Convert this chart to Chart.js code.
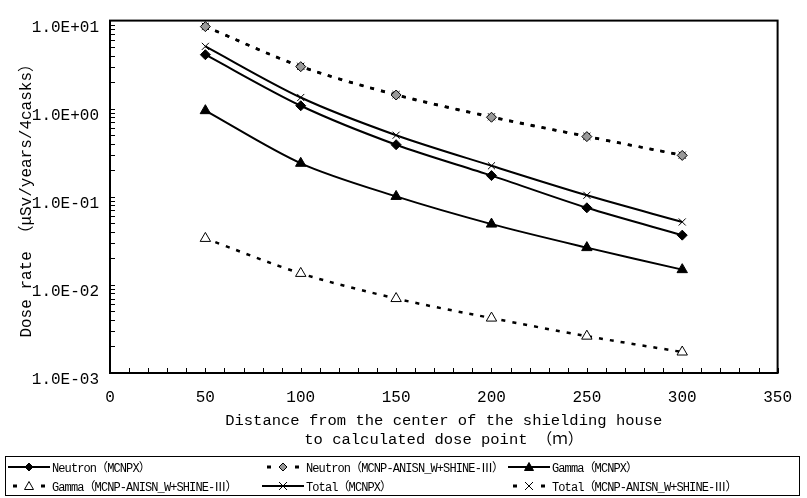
<!DOCTYPE html>
<html>
<head>
<meta charset="utf-8">
<script src="https://cdn.jsdelivr.net/npm/chart.js@4.4.1/dist/chart.umd.min.js"></script>
<style>
	html, body { margin: 0; padding: 0; background: #fff; }
	#wrap { position: relative; width: 807px; height: 498px; }
	#legend {
		position: absolute; left: 5px; top: 456px; width: 795px; height: 40px;
		border: 1px solid #000; box-sizing: border-box;
		font-family: "Liberation Mono", "Noto Sans CJK JP", monospace;
		font-size: 12px; letter-spacing: -0.9px; color: #000;
	}
	.item { position: absolute; display: flex; align-items: center; height: 16px; white-space: nowrap; }
	.item svg { display: block; margin-right: 2px; }
</style>
</head>
<body>
<div id="wrap">
	<canvas id="dose-chart" width="807" height="498"></canvas>
	<div id="legend"></div>
</div>
<script>
document.addEventListener('DOMContentLoaded', function () {
	const distances = [50, 100, 150, 200, 250, 300];

	const neutronMcnpx = [4.1, 1.08, 0.39, 0.174, 0.075, 0.0367];
	const neutronAnisn = [8.55, 3.0, 1.43, 0.80, 0.482, 0.295];
	const gammaMcnpx = [0.95, 0.24, 0.101, 0.049, 0.0265, 0.0149];
	const gammaAnisn = [0.0337, 0.0135, 0.0070, 0.0042, 0.00262, 0.00173];
	const totalMcnpx = [5.1, 1.34, 0.50, 0.225, 0.104, 0.0518];
	const totalAnisn = [8.6, 3.03, 1.445, 0.81, 0.486, 0.297];

	const yTicks = [0.001, 0.01, 0.1, 1, 10];
	const xMax = 350;

	const monoFont = '"Liberation Mono", "Noto Sans CJK JP", monospace';

	// label, values, dashed, marker, legend position (col, row)
	const series = [
		{ label: 'Neutron（MCNPX）', data: neutronMcnpx, dashed: false, marker: 'diamond', col: 0, row: 0 },
		{ label: 'Neutron（MCNP-ANISN_W+SHINE-Ⅲ）', data: neutronAnisn, dashed: true, marker: 'hatchDiamond', col: 1, row: 0 },
		{ label: 'Gamma（MCNPX）', data: gammaMcnpx, dashed: false, marker: 'triangle', col: 2, row: 0 },
		{ label: 'Gamma（MCNP-ANISN_W+SHINE-Ⅲ）', data: gammaAnisn, dashed: true, marker: 'openTriangle', col: 0, row: 1 },
		{ label: 'Total（MCNPX）', data: totalMcnpx, dashed: false, marker: 'cross', col: 1, row: 1 },
		{ label: 'Total（MCNP-ANISN_W+SHINE-Ⅲ）', data: totalAnisn, dashed: true, marker: 'cross', col: 2, row: 1 }
	];

	const markerStyles = {
		diamond: { pointStyle: 'rectRot', radius: 5, fill: '#000' },
		hatchDiamond: { pointStyle: 'rectRot', radius: 5, fill: '#999' },
		triangle: { pointStyle: 'triangle', radius: 6, fill: '#000' },
		openTriangle: { pointStyle: 'triangle', radius: 6, fill: '#fff' },
		cross: { pointStyle: 'crossRot', radius: 5, fill: '#000' }
	};

	function sci(v) {
		const e = Math.round(Math.log10(v));
		const m = v / Math.pow(10, e);
		const sign = e < 0 ? '-' : '+';
		return m.toFixed(1) + 'E' + sign + String(Math.abs(e)).padStart(2, '0');
	}

	const datasets = series.map(function (s) {
		const m = markerStyles[s.marker];
		return {
			label: s.label,
			data: distances.map((d, i) => ({ x: d, y: s.data[i] })),
			borderColor: '#000',
			borderWidth: s.dashed ? 2.5 : 2,
			borderDash: s.dashed ? [4, 7] : [],
			tension: 0.3,
			pointStyle: m.pointStyle,
			pointRadius: m.radius,
			pointBackgroundColor: m.fill,
			pointBorderColor: '#000',
			pointBorderWidth: 1
		};
	});

	const frameAndTicks = {
		id: 'frameAndTicks',
		afterDraw(chart) {
			const ctx = chart.ctx;
			const a = chart.chartArea;
			const x = chart.scales.x;
			const y = chart.scales.y;

			ctx.save();
			ctx.strokeStyle = '#000';
			ctx.lineWidth = 1;
			ctx.beginPath();
			for (let v = 0; v <= xMax; v += 10) {
				const px = Math.round(x.getPixelForValue(v)) + 0.5;
				ctx.moveTo(px, a.bottom);
				ctx.lineTo(px, a.bottom - 5);
			}
			for (let i = 0; i < yTicks.length - 1; i++) {
				for (let k = 1; k < 10; k++) {
					const py = Math.round(y.getPixelForValue(yTicks[i] * k)) + 0.5;
					ctx.moveTo(a.left, py);
					ctx.lineTo(a.left + 5, py);
				}
			}
			ctx.stroke();
			ctx.lineWidth = 2;
			ctx.strokeRect(a.left, a.top, a.right - a.left, a.bottom - a.top);
			ctx.restore();
		}
	};

	new Chart(document.getElementById('dose-chart'), {
		type: 'line',
		data: { datasets: datasets },
		plugins: [frameAndTicks],
		options: {
			responsive: false,
			animation: false,
			layout: {
				padding: { left: 10, top: 15, right: 16, bottom: 49 }
			},
			scales: {
				x: {
					type: 'linear',
					min: 0,
					max: xMax,
					afterFit: function (scale) {
						scale.height = 76;
					},
					ticks: {
						stepSize: 50,
						color: '#000',
						padding: 15,
						maxRotation: 0,
						font: { family: monoFont, size: 16 }
					},
					grid: { display: false, drawTicks: false },
					border: { display: false },
					title: {
						display: true,
						text: ['Distance from the center of the shielding house', 'to calculated dose point （ｍ）'],
						color: '#000',
						padding: { top: 7, bottom: 0 },
						font: { family: monoFont, size: 15.5 }
					}
				},
				y: {
					type: 'logarithmic',
					min: 0.001,
					max: 10,
					afterBuildTicks: function (scale) {
						scale.ticks = yTicks.map(v => ({ value: v }));
					},
					afterFit: function (scale) {
						scale.width = 100;
					},
					ticks: {
						color: '#000',
						padding: 11,
						labelOffset: 7,
						font: { family: monoFont, size: 16 },
						callback: function (value) {
							return sci(value);
						}
					},
					grid: { display: false, drawTicks: false },
					border: { display: false },
					title: {
						display: true,
						text: 'Dose rate （μSv/years/4casks）',
						color: '#000',
						padding: { top: 7, bottom: 0 },
						font: { family: monoFont, size: 16 }
					}
				}
			},
			plugins: {
				legend: { display: false },
				tooltip: { enabled: false }
			}
		}
	});

	// legend in a box under the chart, three columns
	const colX = [2, 256, 502];
	const rowY = [2, 21];

	function markerSvg(marker, cx, cy) {
		if (marker === 'diamond' || marker === 'hatchDiamond') {
			const fill = marker === 'diamond' ? '#000' : '#999';
			return `<polygon points="${cx},${cy - 4} ${cx + 4},${cy} ${cx},${cy + 4} ${cx - 4},${cy}" fill="${fill}" stroke="#000" stroke-width="1"/>`;
		}
		if (marker === 'triangle' || marker === 'openTriangle') {
			const fill = marker === 'triangle' ? '#000' : '#fff';
			return `<polygon points="${cx},${cy - 4.5} ${cx + 4.5},${cy + 3.5} ${cx - 4.5},${cy + 3.5}" fill="${fill}" stroke="#000" stroke-width="1"/>`;
		}
		return `<path d="M${cx - 4} ${cy - 4} L${cx + 4} ${cy + 4} M${cx + 4} ${cy - 4} L${cx - 4} ${cy + 4}" stroke="#000" stroke-width="1"/>`;
	}

	const legend = document.getElementById('legend');
	series.forEach(function (s) {
		const w = 42;
		const cy = 8;
		const line = s.dashed
			? `<rect x="5" y="${cy - 1.5}" width="4" height="3" fill="#000"/><rect x="33" y="${cy - 1.5}" width="4" height="3" fill="#000"/>`
			: `<line x1="0" y1="${cy}" x2="${w}" y2="${cy}" stroke="#000" stroke-width="2"/>`;
		const item = document.createElement('div');
		item.className = 'item';
		item.style.left = colX[s.col] + 'px';
		item.style.top = rowY[s.row] + 'px';
		item.innerHTML = `<svg width="${w}" height="16">${line}${markerSvg(s.marker, w / 2, cy)}</svg><span>${s.label}</span>`;
		legend.appendChild(item);
	});
});
</script>
</body>
</html>
